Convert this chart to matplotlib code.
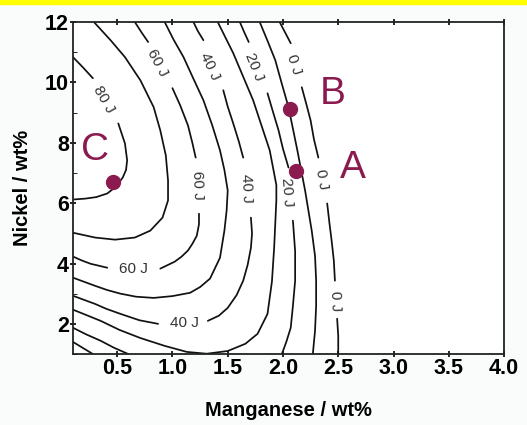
import matplotlib.pyplot as plt
from matplotlib.patches import Rectangle
from matplotlib.ticker import MultipleLocator

# Contour traces (Mn wt%, Ni wt%); each list of segments
# is split where the inline label sits.
contour_80 = [
    ([0.10, 0.19, 0.28], [10.84, 10.50, 10.14]),
    ([0.51, 0.57, 0.59, 0.58, 0.55, 0.49, 0.41, 0.31, 0.21, 0.10],
     [8.64, 7.98, 7.42, 7.10, 6.85, 6.55, 6.32, 6.20, 6.15, 6.12]),
]
contour_70 = [
    ([0.29, 0.44, 0.57, 0.71, 0.83, 0.89, 0.94, 0.96, 0.96, 0.91, 0.80, 0.66, 0.48, 0.30, 0.10],
     [12.0, 11.40, 10.84, 10.07, 9.18, 8.41, 7.58, 6.75, 6.09, 5.52, 5.09, 4.86, 4.79, 4.86, 5.02]),
]
contour_60 = [
    ([0.66, 0.72, 0.78], [12.0, 11.66, 11.34]),
    ([1.00, 1.07, 1.14, 1.18, 1.21], [9.81, 9.24, 8.58, 8.00, 7.51]),
    ([1.24, 1.24, 1.22, 1.18, 1.14, 1.08, 1.02, 0.89], [5.65, 5.30, 4.92, 4.65, 4.43, 4.22, 4.06, 3.83]),
    ([0.41, 0.33, 0.26, 0.18, 0.10], [3.86, 3.93, 3.99, 4.10, 4.23]),
]
contour_50 = [
    ([0.93, 1.01, 1.10, 1.19, 1.28, 1.36, 1.43, 1.47, 1.50, 1.49, 1.47, 1.43, 1.34, 1.25, 1.16, 1.00, 0.83, 0.67, 0.53, 0.41, 0.30, 0.10],
     [12.0, 11.42, 10.84, 10.12, 9.41, 8.58, 7.75, 7.10, 6.42, 5.75, 5.09, 4.19, 3.50, 3.22, 3.03, 2.92, 2.86, 2.90, 3.00, 3.12, 3.26, 3.53]),
]
contour_40 = [
    ([1.19, 1.23, 1.28], [12.0, 11.70, 11.40]),
    ([1.46, 1.50, 1.55, 1.60, 1.64], [9.74, 9.20, 8.64, 8.05, 7.51]),
    ([1.71, 1.72, 1.71, 1.68, 1.64, 1.58, 1.50, 1.42, 1.32], [5.52, 5.00, 4.52, 3.95, 3.43, 2.95, 2.53, 2.27, 2.10]),
    ([0.87, 0.70, 0.53, 0.40, 0.30, 0.10], [2.00, 2.12, 2.33, 2.50, 2.66, 2.93]),
]
contour_30 = [
    ([1.41, 1.55, 1.73, 1.88, 1.94, 1.94, 1.92, 1.90, 1.86, 1.77, 1.66, 1.50, 1.31, 1.13, 0.93, 0.71, 0.52, 0.35, 0.10],
     [12.0, 10.97, 9.41, 7.75, 6.60, 6.09, 4.52, 3.40, 2.33, 1.67, 1.34, 1.10, 1.01, 1.07, 1.27, 1.53, 1.80, 2.10, 2.47]),
]
contour_20 = [
    ([1.61, 1.65, 1.69], [12.0, 11.66, 11.34]),
    ([1.86, 1.91, 1.96, 2.00, 2.05], [9.64, 9.02, 8.41, 7.80, 7.18]),
    ([2.09, 2.11, 2.11, 2.09, 2.07, 2.03, 1.99], [5.42, 4.40, 3.43, 2.60, 1.87, 1.40, 1.00]),
    ([0.10, 0.22, 0.35, 0.47, 0.60], [1.87, 1.65, 1.44, 1.21, 1.00]),
]
contour_10 = [
    ([1.79, 1.86, 1.93, 1.99, 2.05, 2.13, 2.20, 2.26, 2.29, 2.30, 2.30, 2.29, 2.27],
     [12.0, 11.38, 10.74, 9.95, 9.18, 7.75, 6.42, 5.09, 4.25, 3.43, 2.60, 1.77, 1.00]),
    ([0.10, 0.19, 0.28], [1.40, 1.20, 1.00]),
]
contour_0 = [
    ([1.97, 2.02, 2.07], [12.0, 11.65, 11.30]),
    ([2.17, 2.21, 2.25, 2.28, 2.32], [9.84, 9.30, 8.74, 8.12, 7.51]),
    ([2.40, 2.42, 2.44, 2.46, 2.47], [5.99, 5.35, 4.76, 4.10, 3.43]),
    ([2.49, 2.50, 2.50], [2.17, 1.60, 1.00]),
]
contours = [contour_80, contour_70, contour_60, contour_50, contour_40,
            contour_30, contour_20, contour_10, contour_0]

# inline labels: text, x, y, rotation
label_text = ['80 J', '60 J', '40 J', '20 J', '0 J',
              '60 J', '40 J', '20 J', '0 J',
              '60 J', '40 J', '0 J']
label_x = [0.38, 0.86, 1.34, 1.74, 2.10,
           1.23, 1.67, 2.04, 2.35,
           0.65, 1.11, 2.47]
label_y = [9.44, 10.64, 10.54, 10.50, 10.60,
           6.58, 6.49, 6.35, 6.80,
           3.83, 2.03, 2.76]
label_rot = [-60, -62, -65, -68, -72,
             -88, -88, -86, -80,
             0, 0, -88]

# marked steels
point_names = ['A', 'B', 'C']
point_mn = [2.12, 2.06, 0.46]
point_ni = [7.05, 9.13, 6.70]
name_x = [2.63, 2.45, 0.30]
name_y = [7.15, 9.61, 7.75]

MARK = '#8b1a4f'

fig = plt.figure(figsize=(5.27, 4.25), dpi=100)
fig.patch.set_facecolor('#fafbfb')
fig.patches.append(Rectangle((0, 0.991), 1, 0.009, transform=fig.transFigure,
                             color='#ffff00', zorder=0))
ax = fig.add_axes([0.1385, 0.167, 0.8179, 0.781])
ax.set_facecolor('white')

for segs in contours:
    for xs, ys in segs:
        ax.plot(xs, ys, color='#111111', lw=1.25, solid_capstyle='round')

for t, x, y, r in zip(label_text, label_x, label_y, label_rot):
    ax.text(x, y, t, rotation=r, ha='center', va='center', fontsize=11,
            color='#333333', family='Liberation Sans', rotation_mode='anchor')

ax.plot(point_mn, point_ni, 'o', color=MARK, markersize=10, zorder=5)
for t, x, y in zip(point_names, name_x, name_y):
    ax.text(x, y, t, color=MARK, fontsize=28, ha='center', va='center',
            family='Liberation Sans')

ax.set_xlim(0.1, 4.0)
ax.set_ylim(1.0, 12.0)
ax.set_xticks([0.5, 1.0, 1.5, 2.0, 2.5, 3.0, 3.5, 4.0])
ax.set_yticks([2, 4, 6, 8, 10, 12])
ax.yaxis.set_minor_locator(MultipleLocator(1))
ax.tick_params(axis='both', which='major', labelsize=15.5, width=1.2, length=4,
               direction='inout', top=True, pad=1)
ax.tick_params(axis='y', which='minor', length=3, direction='in')
for lab in ax.get_xticklabels() + ax.get_yticklabels():
    lab.set_fontweight('bold')
    lab.set_family('Liberation Sans')
for sp in ax.spines.values():
    sp.set_linewidth(1.3)
    sp.set_color('#222222')

ax.set_xlabel('Manganese / wt%', fontsize=14.5, fontweight='bold',
              family='Liberation Sans', va='center')
ax.xaxis.set_label_coords(0.5, -0.169)
ax.set_ylabel('Nickel / wt%', fontsize=14.5, fontweight='bold',
              family='Liberation Sans', va='center')
ax.yaxis.set_label_coords(-0.118, 0.5)

fig.savefig('out.png', dpi=100, facecolor=fig.get_facecolor())
